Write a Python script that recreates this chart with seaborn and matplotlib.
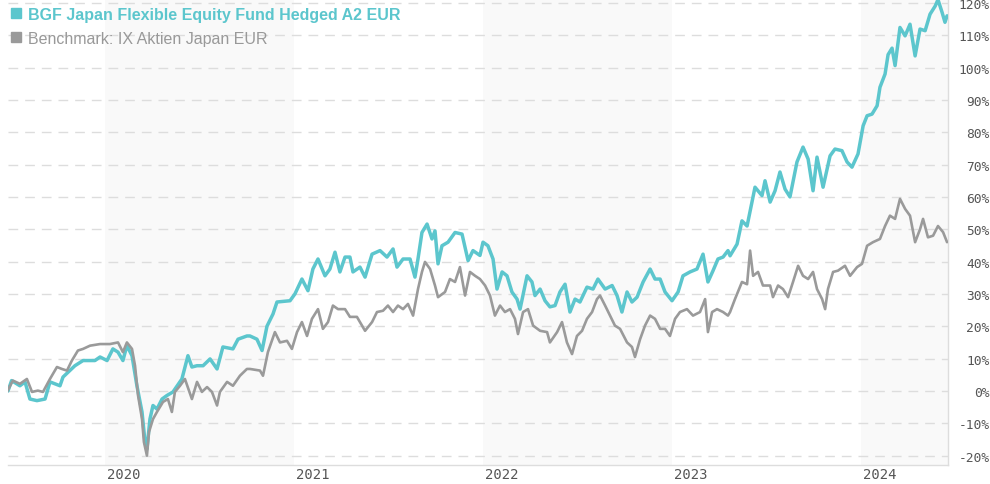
import matplotlib
matplotlib.use("Agg")
import matplotlib.pyplot as plt
import matplotlib.transforms as mtransforms
from matplotlib.lines import Line2D
import numpy as np
import pandas as pd
import seaborn as sns

# Dates as decimal years, values as cumulative performance in %
fund_years = [
    2019.487, 2019.506, 2019.550, 2019.577, 2019.603, 2019.640, 2019.683, 2019.709, 2019.762, 2019.778,
    2019.841, 2019.884, 2019.947, 2019.974, 2020.011, 2020.042, 2020.069, 2020.095, 2020.116, 2020.143,
    2020.169, 2020.196, 2020.212, 2020.222, 2020.238, 2020.254, 2020.275, 2020.302, 2020.328, 2020.360,
    2020.407, 2020.439, 2020.460, 2020.487, 2020.519, 2020.556, 2020.593, 2020.624, 2020.677, 2020.704,
    2020.751, 2020.767, 2020.804, 2020.831, 2020.857, 2020.889, 2020.910, 2020.979, 2021.005, 2021.042,
    2021.074, 2021.100, 2021.127, 2021.164, 2021.190, 2021.217, 2021.243, 2021.270, 2021.296, 2021.312,
    2021.349, 2021.376, 2021.413, 2021.455, 2021.492, 2021.524, 2021.545, 2021.577, 2021.614, 2021.640,
    2021.656, 2021.677, 2021.704, 2021.730, 2021.746, 2021.762, 2021.783, 2021.815, 2021.852, 2021.889,
    2021.921, 2021.947, 2021.984, 2022.000, 2022.026, 2022.053, 2022.074, 2022.101, 2022.127, 2022.153,
    2022.180, 2022.196, 2022.233, 2022.259, 2022.275, 2022.302, 2022.328, 2022.354, 2022.381, 2022.407,
    2022.434, 2022.460, 2022.487, 2022.513, 2022.550, 2022.582, 2022.608, 2022.646, 2022.683, 2022.709,
    2022.735, 2022.762, 2022.788, 2022.815, 2022.847, 2022.884, 2022.910, 2022.937, 2022.963, 2023.000,
    2023.032, 2023.058, 2023.095, 2023.132, 2023.164, 2023.190, 2023.217, 2023.243, 2023.270, 2023.296,
    2023.307, 2023.344, 2023.370, 2023.397, 2023.423, 2023.439, 2023.476, 2023.492, 2023.519, 2023.545,
    2023.571, 2023.598, 2023.624, 2023.661, 2023.693, 2023.720, 2023.746, 2023.767, 2023.799, 2023.836,
    2023.862, 2023.899, 2023.926, 2023.952, 2023.984, 2024.011, 2024.032, 2024.058, 2024.085, 2024.100,
    2024.127, 2024.143, 2024.164, 2024.180, 2024.206, 2024.233, 2024.259, 2024.286, 2024.312, 2024.339,
    2024.365, 2024.392, 2024.407, 2024.429, 2024.444, 2024.455,
]
fund_values = [
    0.0, 3.2, 1.6, 2.8, -2.5, -3.0, -2.5, 2.8, 1.6, 4.3,
    7.8, 9.4, 9.4, 10.5, 9.4, 13.0, 12.0, 9.4, 14.0, 10.9,
    1.6, -6.5, -15.8, -18.0, -8.7, -4.5, -5.6, -2.5, -1.4, -0.3,
    3.7, 10.9, 7.4, 7.8, 7.8, 9.9, 6.8, 13.6, 13.0, 16.0,
    17.0, 17.0, 16.0, 12.5, 20.0, 23.8, 27.5, 27.9, 30.0, 34.6,
    31.0, 37.7, 40.8, 35.6, 37.7, 42.9, 36.8, 41.4, 41.4, 36.8,
    38.3, 35.2, 42.3, 43.4, 41.4, 43.9, 38.3, 40.8, 40.8, 35.2,
    40.8, 49.0, 51.6, 47.0, 49.5, 39.3, 44.9, 46.0, 49.0, 48.5,
    40.3, 43.4, 41.9, 46.0, 44.9, 40.8, 31.5, 36.8, 35.6, 30.6,
    28.4, 25.3, 35.6, 33.7, 29.5, 31.5, 27.9, 26.0, 26.4, 30.6,
    33.0, 24.4, 28.4, 27.5, 32.1, 31.5, 34.6, 31.5, 32.6, 29.5,
    24.4, 30.6, 27.5, 29.0, 33.7, 37.7, 34.6, 34.6, 30.6, 27.9,
    30.6, 35.6, 36.8, 37.7, 42.3, 33.7, 37.2, 40.8, 41.4, 43.4,
    41.8, 45.4, 52.6, 51.0, 58.4, 63.0, 60.4, 65.0, 58.4, 61.9,
    67.7, 62.4, 60.0, 70.8, 75.4, 71.7, 61.9, 72.3, 63.0, 72.7,
    74.8, 74.3, 70.8, 69.2, 73.3, 82.0, 85.1, 85.6, 88.2, 93.9,
    98.0, 104.0, 106.0, 100.6, 112.4, 109.8, 113.4, 103.6, 111.9, 111.4,
    116.5, 119.0, 121.0, 117.0, 114.0, 116.0,
]

bench_years = [
    2019.481, 2019.513, 2019.550, 2019.587, 2019.614, 2019.645, 2019.672, 2019.709, 2019.746, 2019.772,
    2019.799, 2019.825, 2019.857, 2019.884, 2019.921, 2019.974, 2020.026, 2020.069, 2020.095, 2020.116,
    2020.143, 2020.159, 2020.175, 2020.196, 2020.206, 2020.222, 2020.233, 2020.254, 2020.275, 2020.307,
    2020.333, 2020.354, 2020.370, 2020.397, 2020.423, 2020.460, 2020.487, 2020.513, 2020.540, 2020.566,
    2020.593, 2020.608, 2020.646, 2020.677, 2020.714, 2020.751, 2020.767, 2020.820, 2020.836, 2020.862,
    2020.899, 2020.926, 2020.963, 2020.989, 2021.016, 2021.042, 2021.069, 2021.095, 2021.127, 2021.153,
    2021.180, 2021.206, 2021.233, 2021.270, 2021.296, 2021.333, 2021.376, 2021.413, 2021.439, 2021.471,
    2021.497, 2021.524, 2021.550, 2021.577, 2021.603, 2021.630, 2021.656, 2021.677, 2021.693, 2021.720,
    2021.746, 2021.762, 2021.799, 2021.825, 2021.852, 2021.878, 2021.905, 2021.931, 2021.958, 2021.984,
    2022.011, 2022.037, 2022.063, 2022.090, 2022.116, 2022.143, 2022.169, 2022.185, 2022.212, 2022.238,
    2022.265, 2022.302, 2022.339, 2022.354, 2022.392, 2022.418, 2022.444, 2022.471, 2022.497, 2022.524,
    2022.550, 2022.577, 2022.603, 2022.619, 2022.646, 2022.672, 2022.698, 2022.725, 2022.762, 2022.788,
    2022.804, 2022.831, 2022.857, 2022.884, 2022.910, 2022.937, 2022.963, 2022.989, 2023.016, 2023.042,
    2023.079, 2023.111, 2023.148, 2023.175, 2023.190, 2023.212, 2023.238, 2023.270, 2023.296, 2023.307,
    2023.333, 2023.370, 2023.397, 2023.413, 2023.429, 2023.455, 2023.481, 2023.519, 2023.534, 2023.561,
    2023.587, 2023.614, 2023.640, 2023.667, 2023.693, 2023.720, 2023.746, 2023.767, 2023.794, 2023.810,
    2023.825, 2023.852, 2023.878, 2023.915, 2023.942, 2023.979, 2024.005, 2024.032, 2024.063, 2024.100,
    2024.127, 2024.153, 2024.180, 2024.206, 2024.233, 2024.259, 2024.286, 2024.312, 2024.328, 2024.354,
    2024.381, 2024.407, 2024.434, 2024.455,
]
bench_values = [
    -0.3, 3.2, 2.2, 3.7, -0.3, 0.1, -0.3, 3.7, 7.4, 6.8,
    6.3, 9.4, 12.5, 13.0, 14.0, 14.5, 14.5, 15.0, 12.0, 15.0,
    13.0, 7.8, -1.4, -8.7, -15.8, -20.0, -12.7, -8.7, -6.5, -3.4,
    -2.5, -6.5, -0.3, 1.6, 3.7, -2.5, 2.8, -0.3, 1.2, -0.3,
    -4.5, -0.3, 2.8, 1.6, 4.7, 6.8, 6.8, 6.3, 4.7, 12.0,
    18.2, 15.0, 15.5, 13.0, 18.2, 21.3, 17.0, 22.3, 25.3, 19.2,
    21.3, 26.4, 25.3, 25.3, 22.9, 22.9, 18.6, 21.3, 24.4, 24.8,
    26.4, 24.4, 26.4, 25.3, 26.9, 23.3, 31.5, 36.8, 39.9, 37.7,
    32.6, 29.0, 30.6, 34.6, 33.7, 38.3, 29.5, 36.8, 35.6, 34.6,
    32.6, 29.5, 23.3, 26.4, 24.4, 25.3, 22.3, 17.6, 24.4, 25.3,
    20.2, 18.6, 18.2, 15.0, 18.2, 21.3, 15.0, 11.4, 17.0, 18.6,
    22.3, 24.4, 28.4, 29.5, 26.4, 23.3, 20.2, 19.2, 15.0, 13.6,
    10.5, 16.0, 20.2, 23.3, 22.3, 19.2, 19.2, 17.0, 22.3, 24.4,
    25.3, 23.3, 24.4, 28.4, 18.2, 24.4, 25.3, 24.4, 23.3, 24.4,
    28.4, 33.7, 33.0, 43.4, 35.6, 36.8, 32.6, 32.6, 29.0, 32.6,
    31.5, 29.0, 33.7, 38.7, 35.6, 34.6, 36.8, 31.5, 28.4, 25.3,
    31.5, 36.8, 37.2, 38.7, 35.6, 38.3, 39.3, 44.9, 46.0, 47.0,
    51.0, 54.2, 53.2, 59.4, 56.3, 54.2, 46.0, 50.0, 53.2, 47.5,
    48.0, 51.0, 49.1, 46.0,
]

fund_label = "BGF Japan Flexible Equity Fund Hedged A2 EUR"
bench_label = "Benchmark: IX Aktien Japan EUR"
year_labels = [2020, 2021, 2022, 2023, 2024]
shaded_years = [2020, 2022, 2024]
y_ticks = list(range(-20, 121, 10))

fund_color = "#5cc6cd"
bench_color = "#9a9a9a"

sns.set_style("white")
plt.rcParams["font.family"] = ["DejaVu Sans"]

fig = plt.figure(figsize=(9.9, 4.85), dpi=100)
ax = fig.add_axes([8 / 990, 1 - 466 / 485, 940 / 990, 466 / 485])

x_min, x_max = 2019.487, 2024.460
ax.set_xlim(x_min, x_max)
ax.set_ylim(-22.9, 121.2)

for yr in shaded_years:
    ax.axvspan(yr, min(yr + 1, x_max), color="#f9f9f9", zorder=0, lw=0)

for v in y_ticks:
    ax.axhline(v, color="#dddddd", lw=1, ls=(0, (7, 5)), zorder=1)

fund_df = pd.DataFrame({"year": fund_years, "value": fund_values})
bench_df = pd.DataFrame({"year": bench_years, "value": bench_values})
sns.lineplot(data=fund_df, x="year", y="value", ax=ax, color=fund_color,
             lw=2.5, zorder=3, solid_joinstyle="round")
sns.lineplot(data=bench_df, x="year", y="value", ax=ax, color=bench_color,
             lw=1.9, zorder=4, solid_joinstyle="round")
ax.set_xlabel("")
ax.set_ylabel("")

for side in ["top", "left"]:
    ax.spines[side].set_visible(False)
for side in ["bottom", "right"]:
    ax.spines[side].set_color("#dddddd")
    ax.spines[side].set_linewidth(1)

ax.yaxis.tick_right()
ax.set_yticks(y_ticks)
ax.set_yticklabels([f"{v}%" for v in y_ticks])
ax.tick_params(axis="y", length=0, pad=30, labelsize=9.3, labelcolor="#555555")
for lab in ax.get_yticklabels():
    lab.set_horizontalalignment("right")
    lab.set_family("DejaVu Sans Mono")

# year labels sit just right of the year boundary
ax.set_xticks(year_labels)
ax.set_xticklabels([str(y) for y in year_labels])
ax.tick_params(axis="x", length=0, pad=1.5, labelsize=10, labelcolor="#555555")
shift = mtransforms.ScaledTranslation(2 / 100, 0, fig.dpi_scale_trans)
for lab in ax.get_xticklabels():
    lab.set_family("DejaVu Sans Mono")
    lab.set_horizontalalignment("left")
    lab.set_transform(lab.get_transform() + shift)

handles = [
    Line2D([], [], marker="s", ls="", color=fund_color, markersize=7.5),
    Line2D([], [], marker="s", ls="", color=bench_color, markersize=7.5),
]
leg = ax.legend(handles, [fund_label, bench_label], loc="upper left",
                bbox_to_anchor=(-0.003, 0.997), frameon=False, handlelength=0.6,
                handletextpad=0.4, labelspacing=0.55, borderaxespad=0,
                prop={"family": "Liberation Sans", "size": 11.5})
leg.get_texts()[0].set_color(fund_color)
leg.get_texts()[0].set_fontweight("bold")
leg.get_texts()[1].set_color("#999999")
leg.set_zorder(5)

fig.savefig("out.png", dpi=100)
